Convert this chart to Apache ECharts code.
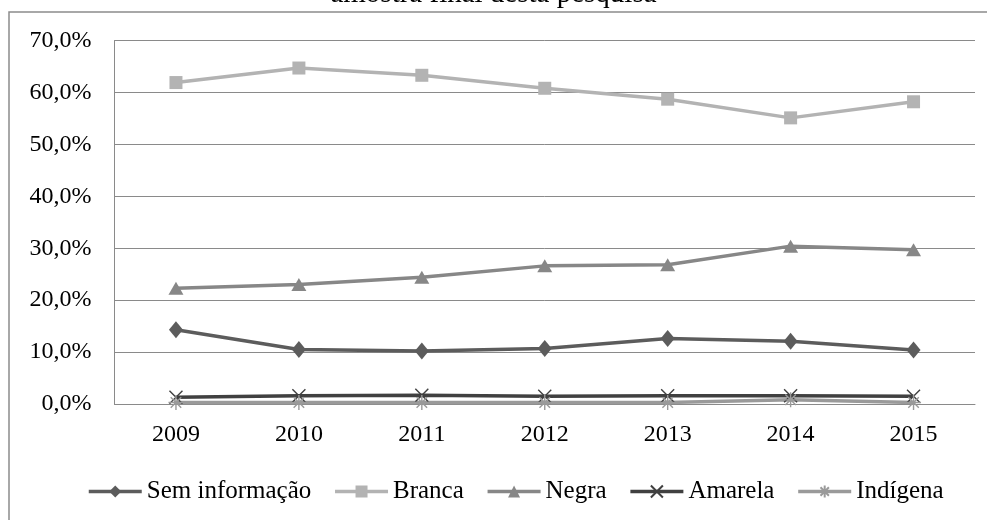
<!DOCTYPE html>
<html>
<head>
<meta charset="utf-8">
<script src="https://cdn.jsdelivr.net/npm/echarts@6/dist/echarts.min.js"></script>
<style>
html,body{margin:0;padding:0;background:#fff;}
#main{width:987px;height:520px;}
</style>
</head>
<body>
<div id="main"></div>
<script>
var titleText = 'amostra final desta pesquisa';
var years = ['2009','2010','2011','2012','2013','2014','2015'];
var semInformacao = [14.3, 10.5, 10.2, 10.7, 12.6, 12.1, 10.4];
var branca = [61.9, 64.7, 63.3, 60.8, 58.7, 55.1, 58.2];
var negra = [22.3, 23.0, 24.4, 26.6, 26.8, 30.4, 29.7];
var amarela = [1.3, 1.6, 1.7, 1.5, 1.6, 1.6, 1.5];
var indigena = [0.3, 0.3, 0.3, 0.3, 0.3, 0.8, 0.3];
var yTicks = [0, 10, 20, 30, 40, 50, 60, 70];

var FONT = 'Liberation Serif';
var chart = echarts.init(document.getElementById('main'), null, {renderer:'canvas'});

function mk(name, data, color, symbol, size, hollow) {
  return {
    name: name, type: 'line', data: data,
    symbol: symbol, symbolSize: size, showAllSymbol: true,
    lineStyle: {color: color, width: 3.5},
    itemStyle: hollow ? {color: 'rgba(0,0,0,0)', borderColor: color, borderWidth: 1.4} : {color: color, borderWidth: 0},
    emphasis: {disabled: true},
    animation: false
  };
}
var crossPath = 'path://M0,0L10,10M10,0L0,10';
var starPath = 'path://M5,0L5,10M0,5L10,5M1.5,1.5L8.5,8.5M8.5,1.5L1.5,8.5';

chart.setOption({
  animation: false,
  backgroundColor: '#fff',
  title: {
    text: titleText, left: 'center', top: -20, padding: 0,
    textStyle: {fontFamily: FONT, fontSize: 29, fontWeight: 'normal', color: '#000'}
  },
  graphic: [{
    type: 'rect', shape: {x: 9, y: 12, width: 1000, height: 540},
    style: {fill: 'none', stroke: '#8c8c8c', lineWidth: 1.5}, silent: true, z: -1
  }],
  grid: {left: 114.5, right: 12, top: 40.5, bottom: 116, containLabel: false},
  legend: {
    left: 82, top: 474, itemWidth: 53, itemHeight: 15, itemGap: 22,
    lineStyle: {width: 3.5},
    textStyle: {fontFamily: FONT, fontSize: 25, color: '#000'},
    data: ['Sem informação','Branca','Negra','Amarela','Indígena']
  },
  xAxis: {
    type: 'category', data: years, boundaryGap: true,
    axisLine: {lineStyle: {color: '#8a8a8a', width: 1}},
    axisTick: {show: false},
    axisLabel: {fontFamily: FONT, fontSize: 24, color: '#000', margin: 19}
  },
  yAxis: {
    type: 'value', min: yTicks[0], max: yTicks[yTicks.length-1], interval: 10,
    axisLine: {show: true, lineStyle: {color: '#8a8a8a', width: 1}},
    axisTick: {show: false},
    splitLine: {lineStyle: {color: '#8a8a8a', width: 1}},
    axisLabel: {fontFamily: FONT, fontSize: 24, color: '#000', margin: 23,
      formatter: function(v){ return v.toFixed(1).replace('.', ',') + '%'; }}
  },
  series: [
    mk('Sem informação', semInformacao, '#5c5c5c', 'diamond', [14, 17], false),
    mk('Branca', branca, '#b3b3b3', 'rect', 13, false),
    mk('Negra', negra, '#878787', 'triangle', [15, 13], false),
    mk('Amarela', amarela, '#404040', crossPath, 13, true),
    mk('Indígena', indigena, '#9a9a9a', starPath, 15, true)
  ]
});
</script>
</body>
</html>
